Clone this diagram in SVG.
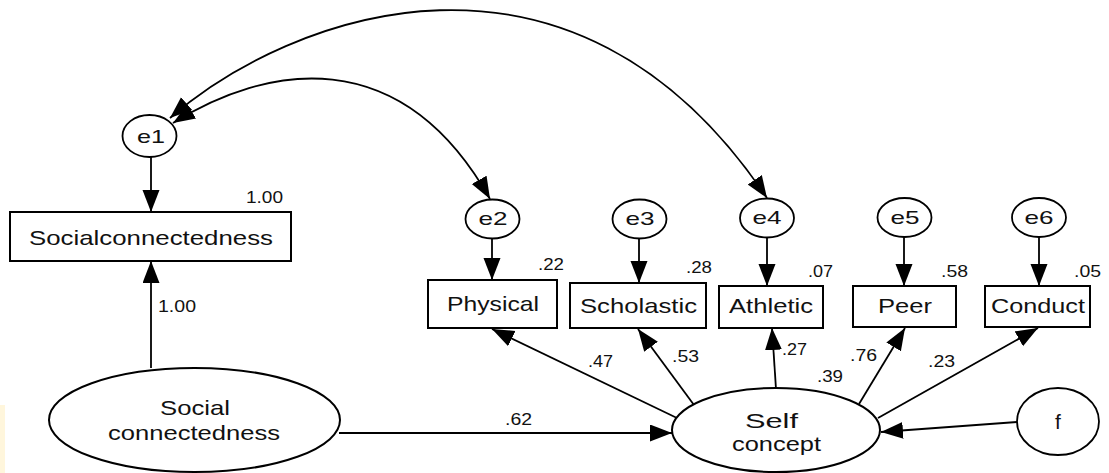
<svg xmlns="http://www.w3.org/2000/svg" width="1109" height="473" viewBox="0 0 1109 473">
  <style>
    .box { fill: #fff; stroke: #000; stroke-width: 2; }
    .lat { fill: #fff; stroke: #000; stroke-width: 2; }
    .err { fill: #fff; stroke: #000; stroke-width: 1.8; }
    .edge { fill: none; stroke: #000; stroke-width: 1.8; }
    .lbl { font-family: "Liberation Sans", Arial, sans-serif; font-size: 21px; fill: #111; text-anchor: middle; }
    .elbl { font-family: "Liberation Sans", Arial, sans-serif; font-size: 19px; fill: #111; text-anchor: middle; }
    .num { font-family: "Liberation Sans", Arial, sans-serif; font-size: 16px; fill: #111; }
  </style>
  <defs>
    <marker id="arrow" markerUnits="userSpaceOnUse" markerWidth="24" markerHeight="18" refX="22" refY="8.5" orient="auto-start-reverse">
      <path d="M0,0 L22,8.5 L0,17 Z" fill="#000"/>
    </marker>
  </defs>

  <rect width="1109" height="473" fill="#fff"/>
  <rect x="0" y="405" width="5" height="68" fill="#fff6dc"/>

  <!-- connectors -->
  <g id="connectors">
    <path class="edge" d="M173,123 C265.6,65.1 400,40 490,199" marker-start="url(#arrow)" marker-end="url(#arrow)"/>
    <path class="edge" d="M170,118 C288.5,15 572,-93 767,198" marker-start="url(#arrow)" marker-end="url(#arrow)"/>
    <path class="edge" d="M151,157 L151,212" marker-end="url(#arrow)"/>
    <path class="edge" d="M151,368 L151,261" marker-end="url(#arrow)"/>
    <path class="edge" d="M492,238 L492,280" marker-end="url(#arrow)"/>
    <path class="edge" d="M639,238 L639,283" marker-end="url(#arrow)"/>
    <path class="edge" d="M767,238 L767,286" marker-end="url(#arrow)"/>
    <path class="edge" d="M904,237 L904,286" marker-end="url(#arrow)"/>
    <path class="edge" d="M1039,237 L1039,286" marker-end="url(#arrow)"/>
    <path class="edge" d="M339,433 L672,433" marker-end="url(#arrow)"/>
    <path class="edge" d="M1017,422 L881,432" marker-end="url(#arrow)"/>
    <path class="edge" d="M677,418 L492,329" marker-end="url(#arrow)"/>
    <path class="edge" d="M694,405 L638,329" marker-end="url(#arrow)"/>
    <path class="edge" d="M776,389 L772,328" marker-end="url(#arrow)"/>
    <path class="edge" d="M859,404 L905,328" marker-end="url(#arrow)"/>
    <path class="edge" d="M878,418 L1038,328" marker-end="url(#arrow)"/>
  </g>

  <!-- path coefficients -->
  <g id="coefficients">
    <text class="num" x="158" y="312" textLength="38" lengthAdjust="spacingAndGlyphs">1.00</text>
    <text class="num" x="505" y="425" textLength="27" lengthAdjust="spacingAndGlyphs">.62</text>
    <text class="num" x="588" y="367" textLength="25" lengthAdjust="spacingAndGlyphs">.47</text>
    <text class="num" x="672" y="362" textLength="27" lengthAdjust="spacingAndGlyphs">.53</text>
    <text class="num" x="782" y="355" textLength="25" lengthAdjust="spacingAndGlyphs">.27</text>
    <text class="num" x="817" y="382" textLength="26" lengthAdjust="spacingAndGlyphs">.39</text>
    <text class="num" x="850" y="361" textLength="27" lengthAdjust="spacingAndGlyphs">.76</text>
    <text class="num" x="928" y="367" textLength="27" lengthAdjust="spacingAndGlyphs">.23</text>
  </g>

  <!-- error terms -->
  <g id="e1"><ellipse class="err" cx="149.5" cy="136" rx="27" ry="21"/><text class="elbl" x="151" y="143" textLength="28" lengthAdjust="spacingAndGlyphs">e1</text></g>
  <g id="e2"><ellipse class="err" cx="492.5" cy="219" rx="27" ry="19.5"/><text class="elbl" x="493" y="225" textLength="29" lengthAdjust="spacingAndGlyphs">e2</text></g>
  <g id="e3"><ellipse class="err" cx="639.5" cy="219" rx="27" ry="19.5"/><text class="elbl" x="640" y="225" textLength="29" lengthAdjust="spacingAndGlyphs">e3</text></g>
  <g id="e4"><ellipse class="err" cx="767" cy="218" rx="27" ry="19.5"/><text class="elbl" x="767" y="224" textLength="29" lengthAdjust="spacingAndGlyphs">e4</text></g>
  <g id="e5"><ellipse class="err" cx="904.5" cy="217.5" rx="27" ry="19.5"/><text class="elbl" x="905" y="224" textLength="29" lengthAdjust="spacingAndGlyphs">e5</text></g>
  <g id="e6"><ellipse class="err" cx="1039" cy="217.5" rx="27" ry="19.5"/><text class="elbl" x="1039" y="224" textLength="29" lengthAdjust="spacingAndGlyphs">e6</text></g>
  <g id="f"><ellipse class="err" cx="1058" cy="421.5" rx="41" ry="33.5"/><text class="lbl" x="1058" y="429">f</text></g>

  <!-- observed variables -->
  <g id="socialconnectedness-obs">
    <rect class="box" x="10" y="212" width="281" height="49"/>
    <text class="lbl" x="151" y="245" textLength="244" lengthAdjust="spacingAndGlyphs">Socialconnectedness</text>
    <text class="num" x="246" y="203" textLength="37" lengthAdjust="spacingAndGlyphs">1.00</text>
  </g>
  <g id="physical">
    <rect class="box" x="428" y="280" width="129" height="48"/>
    <text class="lbl" x="493" y="311" textLength="92" lengthAdjust="spacingAndGlyphs">Physical</text>
    <text class="num" x="538" y="270" textLength="26" lengthAdjust="spacingAndGlyphs">.22</text>
  </g>
  <g id="scholastic">
    <rect class="box" x="570" y="283" width="136" height="45"/>
    <text class="lbl" x="638.5" y="313" textLength="117" lengthAdjust="spacingAndGlyphs">Scholastic</text>
    <text class="num" x="686" y="273" textLength="26" lengthAdjust="spacingAndGlyphs">.28</text>
  </g>
  <g id="athletic">
    <rect class="box" x="719" y="286" width="104" height="42"/>
    <text class="lbl" x="771" y="313" textLength="84" lengthAdjust="spacingAndGlyphs">Athletic</text>
    <text class="num" x="808" y="277" textLength="25" lengthAdjust="spacingAndGlyphs">.07</text>
  </g>
  <g id="peer">
    <rect class="box" x="853" y="286" width="103" height="41"/>
    <text class="lbl" x="905" y="313" textLength="54" lengthAdjust="spacingAndGlyphs">Peer</text>
    <text class="num" x="941" y="277" textLength="27" lengthAdjust="spacingAndGlyphs">.58</text>
  </g>
  <g id="conduct">
    <rect class="box" x="985" y="286" width="105" height="41"/>
    <text class="lbl" x="1038" y="313" textLength="94" lengthAdjust="spacingAndGlyphs">Conduct</text>
    <text class="num" x="1074" y="277" textLength="27" lengthAdjust="spacingAndGlyphs">.05</text>
  </g>

  <!-- latent variables -->
  <g id="social-connectedness">
    <ellipse class="lat" cx="194.5" cy="420" rx="145.5" ry="52"/>
    <text class="lbl" x="195" y="415" textLength="70" lengthAdjust="spacingAndGlyphs">Social</text>
    <text class="lbl" x="194" y="440" textLength="172" lengthAdjust="spacingAndGlyphs">connectedness</text>
  </g>
  <g id="self-concept">
    <ellipse class="lat" cx="776" cy="430" rx="104" ry="42"/>
    <text class="lbl" x="771.5" y="428" textLength="53" lengthAdjust="spacingAndGlyphs">Self</text>
    <text class="lbl" x="776.5" y="451" textLength="89" lengthAdjust="spacingAndGlyphs">concept</text>
  </g>
</svg>
